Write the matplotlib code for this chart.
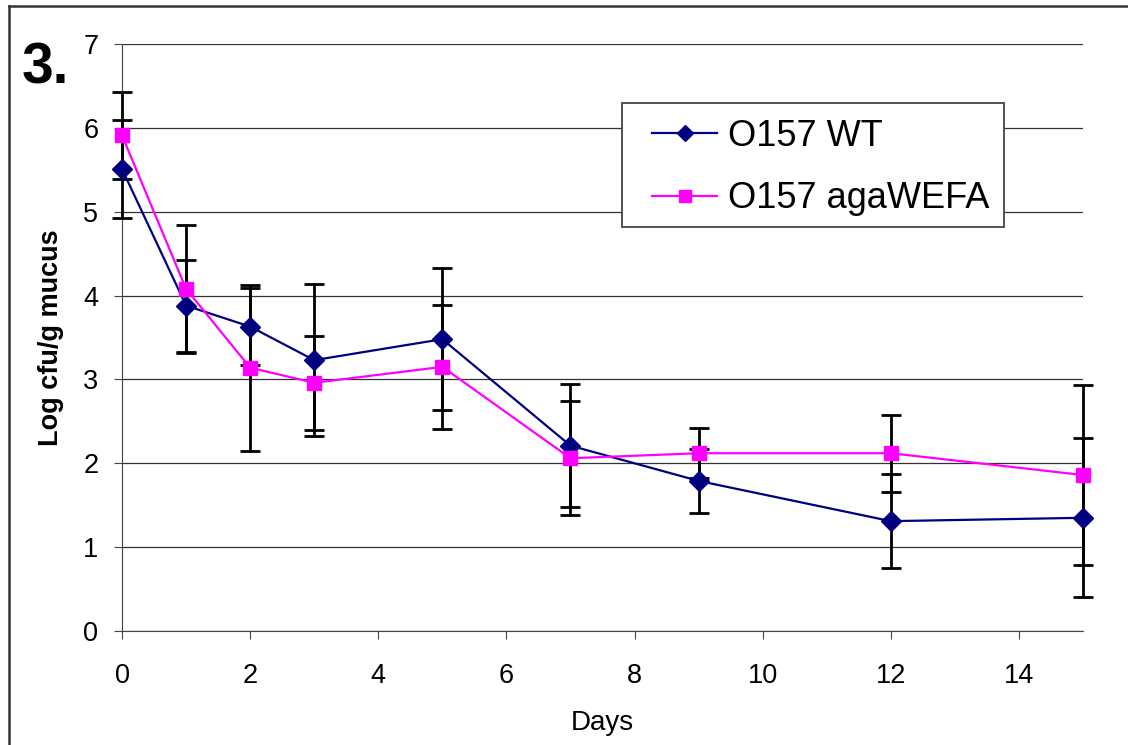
import matplotlib
matplotlib.use("Agg")
import matplotlib.pyplot as plt
from matplotlib.lines import Line2D
from matplotlib.patches import Rectangle

days = [0, 1, 2, 3, 5, 7, 9, 12, 15]
wt = [5.51, 3.88, 3.63, 3.23, 3.48, 2.21, 1.79, 1.31, 1.35]
wt_err = [0.58, 0.55, 0.46, 0.91, 0.85, 0.73, 0.38, 0.56, 0.95]
aga = [5.91, 4.08, 3.14, 2.96, 3.15, 2.06, 2.12, 2.12, 1.86]
aga_err = [0.52, 0.76, 0.99, 0.56, 0.74, 0.68, 0.30, 0.46, 1.07]

plt.rcParams['font.family'] = ['Liberation Sans', 'DejaVu Sans']

W, H = 1128, 745
fig = plt.figure(figsize=(W / 100, H / 100), dpi=100)
ax = fig.add_axes([122 / W, 1 - 631 / H, (1083 - 122) / W, (631 - 44) / H])

for y, e in ((wt, wt_err), (aga, aga_err)):
    eb = ax.errorbar(days, y, yerr=e, fmt='none', ecolor='black', elinewidth=2,
                     capsize=7, capthick=2, zorder=3)
    for art in list(eb.lines[1]) + list(eb.lines[2]):
        art.set_clip_on(False)
ax.plot(days, wt, color='#000080', marker='D', markersize=10.5, linewidth=1.6,
        label='O157 WT', zorder=4, clip_on=False)
ax.plot(days, aga, color='#FF00FF', marker='s', markersize=10, linewidth=1.6,
        label='O157 agaWEFA', zorder=4, clip_on=False)

ax.set_xlim(0, 15)
ax.set_ylim(0, 7)
ax.set_xticks(range(0, 15, 2))
ax.set_yticks(range(0, 8))
ax.grid(axis='y', color='#333333', linewidth=0.9)
ax.set_axisbelow(True)
for s in ['top', 'right']:
    ax.spines[s].set_visible(False)
ax.spines['left'].set_color('#444444')
ax.spines['bottom'].set_color('#444444')
ax.tick_params(axis='both', labelsize=19.5, direction='out', length=6,
               color='#444444')
ax.tick_params(axis='x', pad=17)
ax.tick_params(axis='y', pad=11)
ax.set_xlabel('Days', fontsize=20, labelpad=15)
ax.set_ylabel('Log cfu/g mucus', fontsize=19.5, fontweight='bold', labelpad=14)

def fx(px):
    return (px - 122) / (1083 - 122)

def fy(py):
    return (631 - py) / (631 - 44)

leg = ax.legend(loc='upper left', bbox_to_anchor=(fx(652), fy(119)),
                borderaxespad=0, borderpad=0, fontsize=26, markerscale=0.8,
                frameon=False, handlelength=1.8, labelspacing=0.76,
                handletextpad=0.3)
leg.set_zorder(6)

ax.add_patch(Rectangle((fx(622), fy(227)), fx(1004) - fx(622), fy(103) - fy(227),
                       transform=ax.transAxes, facecolor='white',
                       edgecolor='#444444', linewidth=1.3, zorder=5,
                       clip_on=False))

fig.text(22 / W, 1 - 83 / H, '3.', fontsize=41, fontweight='bold')

fig.add_artist(Line2D([9 / W, 9 / W], [0, 1 - 6 / H], transform=fig.transFigure,
                      color='#333333', linewidth=1.8))
fig.add_artist(Line2D([9 / W, 1], [1 - 6 / H, 1 - 6 / H], transform=fig.transFigure,
                      color='#333333', linewidth=1.8))

fig.savefig('out.png', dpi=100)
